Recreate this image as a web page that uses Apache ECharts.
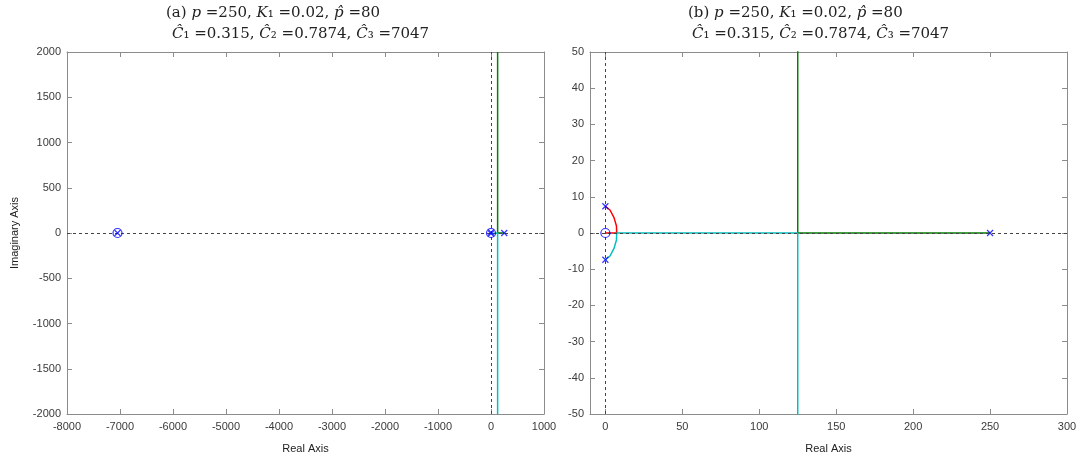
<!DOCTYPE html>
<html>
<head>
<meta charset="utf-8">
<script src="https://cdn.jsdelivr.net/npm/echarts@6/dist/echarts.min.js"></script>
<style>
  html, body { margin: 0; padding: 0; background: #fff; }
  #chart { width: 1085px; height: 459px; }
</style>
</head>
<body>
<div id="chart"></div>
<script>
// Open-loop poles (x) and zeros (o), [real, imag]
const poles = [[0, 7.4], [0, -7.4], [250, 0], [-7047, 0]];
const zeros = [[0, 0], [-7047, 0]];

// Root-locus branches, [real, imag]
const branchRed = [[0, 7.4], [3.0, 6.35], [5.6, 4.25], [7.2, 1.93], [7.35, 0], [0, 0]];
const branchCyan = [[0, -7.4], [3.0, -6.35], [5.6, -4.25], [7.2, -1.93], [7.35, 0], [125, 0], [125, -2000]];
const branchGreen = [[250, 0], [125, 0], [125, 2000]];

// Axis ranges and tick values
const realRangeA = [-8000, 1000];
const imagRangeA = [-2000, 2000];
const realTicksB = [0, 50, 100, 150, 200, 250, 300];
const realRangeB = [-10, 300];
const imagRangeB = [-50, 50];

const FRAME = '#8c8c8c';
const TICKTXT = '#3a3a3a';
const SANS = 'Liberation Sans, Arial, sans-serif';
const SERIF = 'DejaVu Serif, Liberation Serif, serif';
const plain = v => String(v);

const rich = {
  n: { fontFamily: SERIF, fontSize: 15, color: '#222', fontWeight: 'normal' },
  i: { fontFamily: SERIF, fontSize: 15, color: '#222', fontWeight: 'normal', fontStyle: 'italic' }
};

function titleLines(tag, x1, x2) {
  const ts = { fontWeight: 'normal', fontFamily: SERIF, fontSize: 15, rich };
  return [
    { left: x1, top: 6, padding: 0, text: '{n|(' + tag + ') }{i|p}{n| =250, }{i|K}{n|\u2081 =0.02, }{i|p\u0302}{n| =80}', textStyle: ts },
    { left: x2, top: 27, padding: 0, text: '{i|\u0108}{n|\u2081 =0.315, }{i|\u0108}{n|\u2082 =0.7874, }{i|\u0108}{n|\u2083 =7047}', textStyle: ts }
  ];
}

function xAxes(grid, range, opts) {
  const main = Object.assign({
    gridIndex: grid, type: 'value', min: range[0], max: range[1], position: 'bottom',
    axisLine: { show: true, onZero: false, lineStyle: { color: FRAME, width: 1 } },
    axisTick: { show: true, inside: true, length: 5, lineStyle: { color: FRAME } },
    axisLabel: { color: TICKTXT, fontFamily: SANS, fontSize: 11, margin: 7, formatter: plain },
    splitLine: { show: false },
    name: 'Real Axis', nameLocation: 'middle', nameGap: 29,
    nameTextStyle: { color: '#222', fontFamily: SANS, fontSize: 11 }
  }, opts);
  const top = {
    gridIndex: grid, type: 'value', min: range[0], max: range[1], position: 'top',
    interval: main.interval,
    axisLine: { show: true, onZero: false, lineStyle: { color: FRAME, width: 1 } },
    axisTick: Object.assign({}, main.axisTick),
    axisLabel: { show: false }, splitLine: { show: false }
  };
  return [main, top];
}

function yAxes(grid, range, interval, name) {
  const base = {
    gridIndex: grid, type: 'value', min: range[0], max: range[1], interval,
    axisLine: { show: true, onZero: false, lineStyle: { color: FRAME, width: 1 } },
    axisTick: { show: true, inside: true, length: 5, lineStyle: { color: FRAME } },
    splitLine: { show: false }
  };
  const left = Object.assign({}, base, {
    position: 'left',
    axisLabel: { color: TICKTXT, fontFamily: SANS, fontSize: 11, margin: 6, formatter: plain }
  });
  if (name) {
    Object.assign(left, {
      name, nameLocation: 'middle', nameGap: 47, nameRotate: 90,
      nameTextStyle: { color: '#222', fontFamily: SANS, fontSize: 11 }
    });
  }
  const right = Object.assign({}, base, { position: 'right', axisLabel: { show: false } });
  return [left, right];
}

const crossMark = 'path://M0,0L10,10M10,0L0,10';

function plotSeries(ax) {
  const common = { type: 'line', xAxisIndex: ax, yAxisIndex: ax, showSymbol: false, symbol: 'none', clip: true, silent: true };
  return [
    Object.assign({}, common, {
      data: branchRed, lineStyle: { color: '#ff0000', width: 1.5 }, z: 3,
      markLine: {
        symbol: 'none', silent: true, label: { show: false }, animation: false,
        lineStyle: { color: '#444', type: [3, 3], width: 1 },
        data: [{ xAxis: 0 }, { yAxis: 0 }]
      }
    }),
    Object.assign({}, common, { data: branchGreen, lineStyle: { color: '#008000', width: 1.5 }, z: 3 }),
    Object.assign({}, common, { data: branchCyan, lineStyle: { color: '#00bfbf', width: 1.5 }, z: 3 }),
    {
      type: 'scatter', xAxisIndex: ax, yAxisIndex: ax, data: zeros, symbol: 'circle', symbolSize: 9, z: 5,
      itemStyle: { color: 'rgba(0,0,0,0)', borderColor: '#0000ff', borderWidth: 1.2 }, clip: true
    },
    {
      type: 'scatter', xAxisIndex: ax, yAxisIndex: ax, data: poles, symbol: crossMark, symbolSize: 6, z: 6,
      itemStyle: { color: 'rgba(0,0,0,0)', borderColor: '#0000ff', borderWidth: 1.2 }, clip: true
    }
  ];
}

const chart = echarts.init(document.getElementById('chart'), null, { renderer: 'canvas' });
chart.setOption({
  backgroundColor: '#ffffff',
  animation: false,
  title: titleLines('a', 166, 172).concat(titleLines('b', 688, 692)),
  grid: [
    { left: 67, top: 52, width: 477, height: 362 },
    { left: 590, top: 52, width: 477, height: 362 }
  ],
  xAxis: [].concat(
    xAxes(0, realRangeA, { interval: 1000 }),
    xAxes(1, realRangeB, {
      axisTick: { show: true, inside: true, length: 5, lineStyle: { color: FRAME }, customValues: realTicksB },
      axisLabel: { color: TICKTXT, fontFamily: SANS, fontSize: 11, margin: 7, customValues: realTicksB, formatter: plain }
    })
  ),
  yAxis: [].concat(
    yAxes(0, imagRangeA, 500, 'Imaginary Axis'),
    yAxes(1, imagRangeB, 10, null)
  ),
  series: [].concat(plotSeries(0), plotSeries(2))
});
</script>
</body>
</html>
